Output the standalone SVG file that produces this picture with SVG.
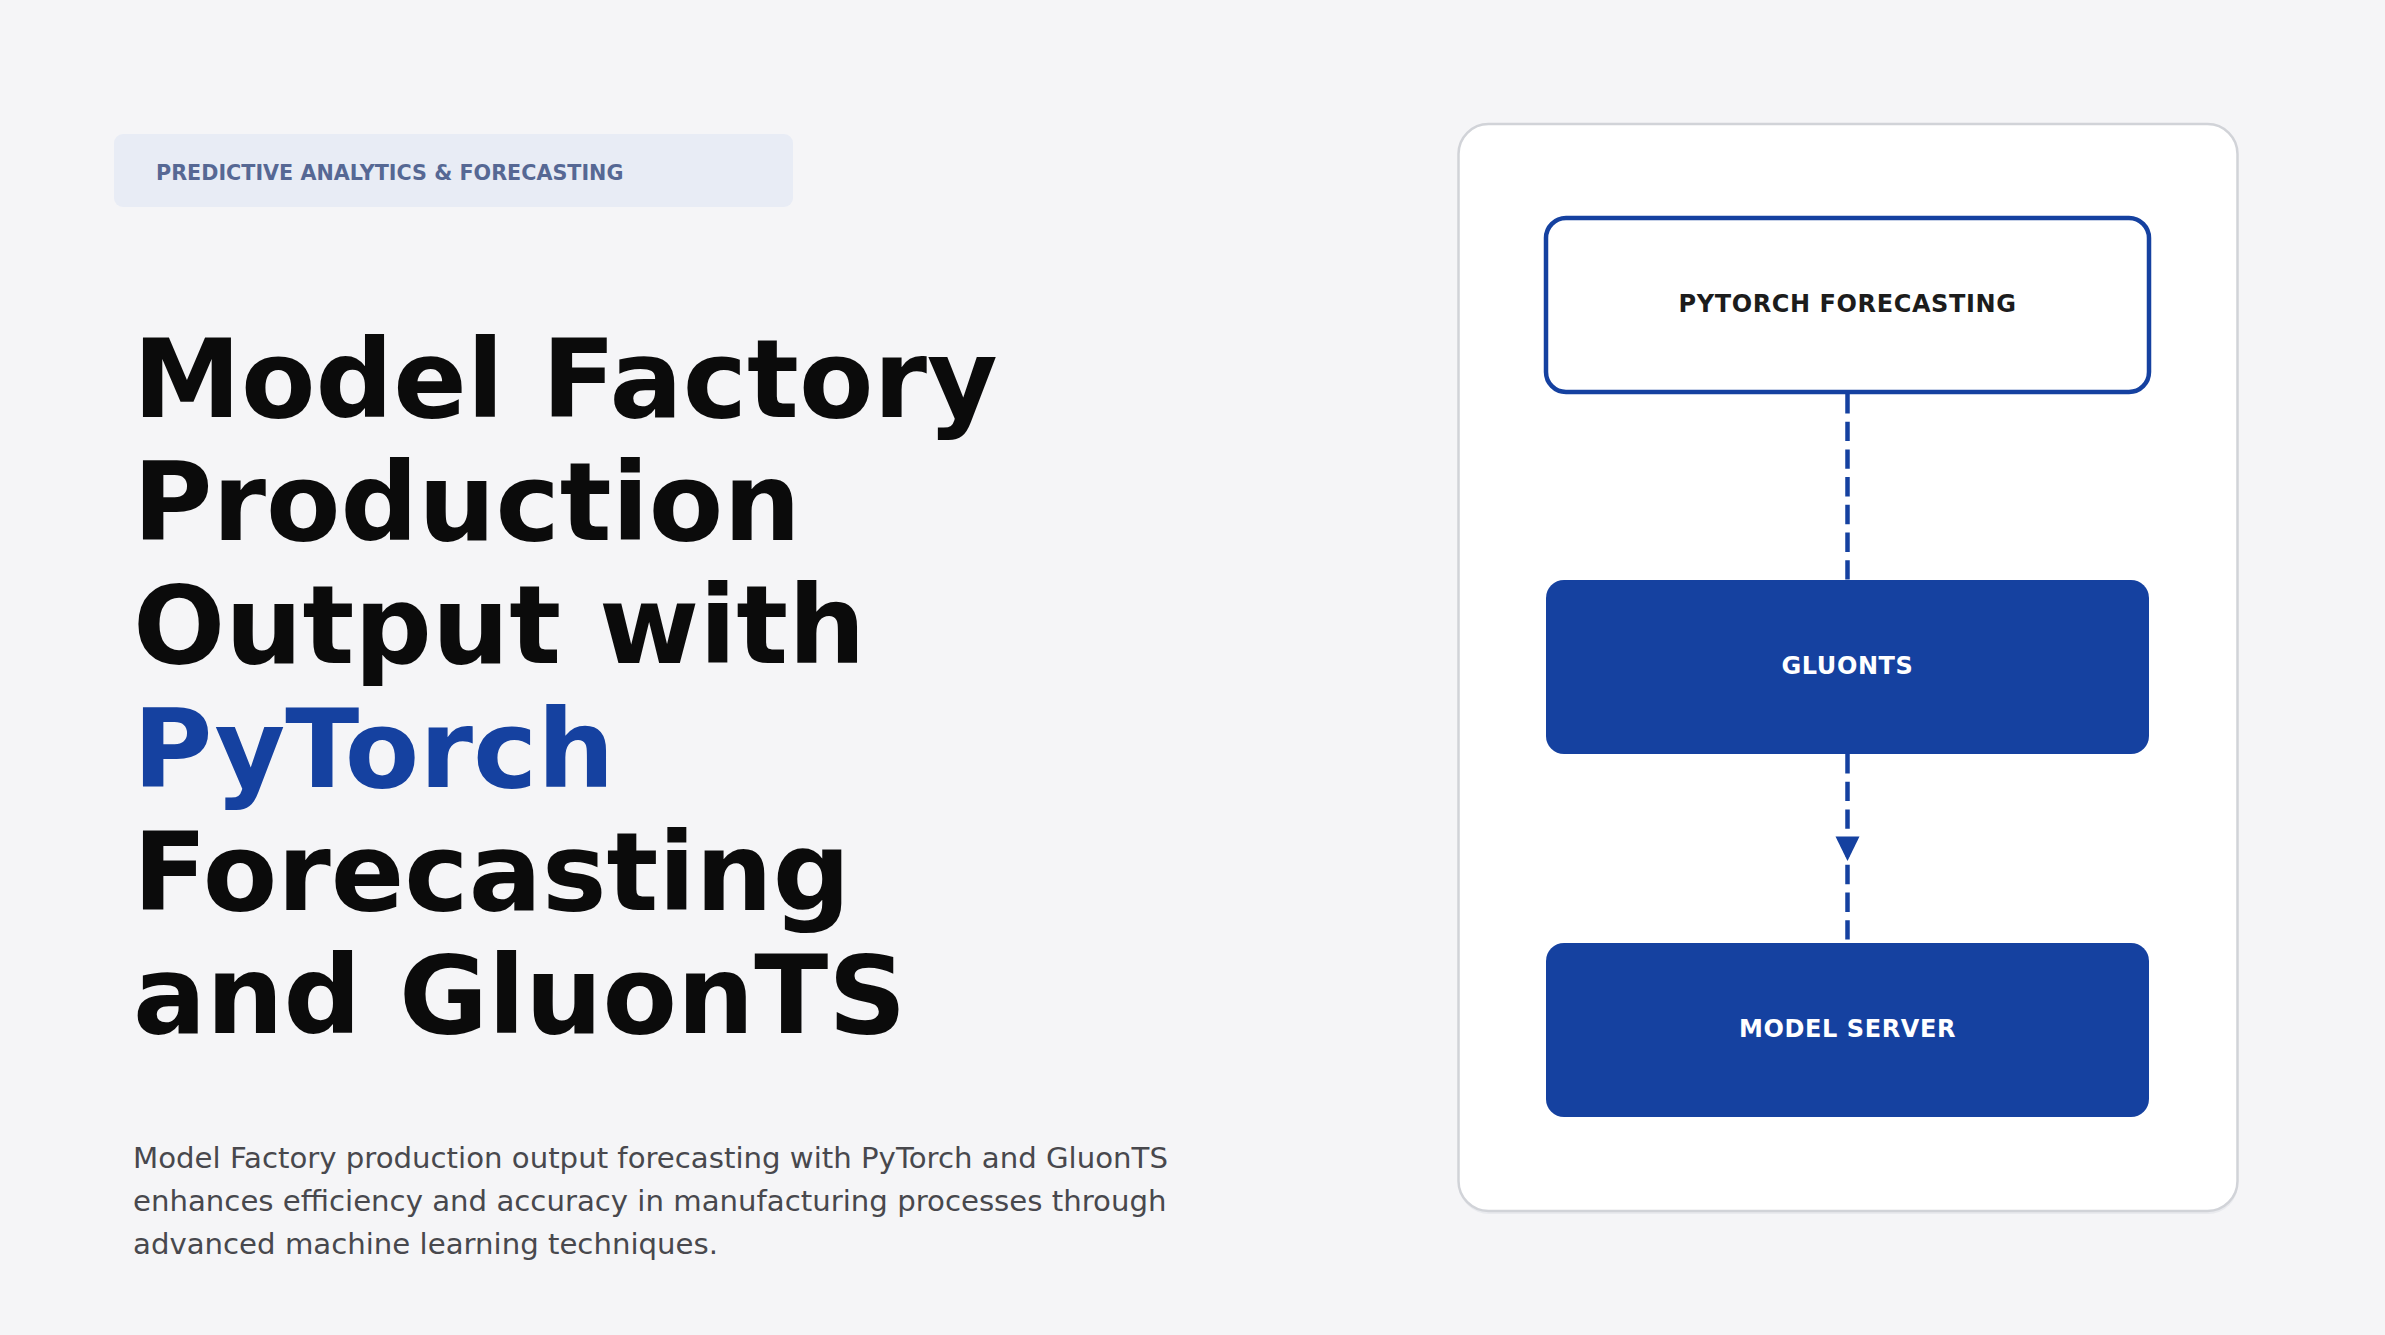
<svg xmlns="http://www.w3.org/2000/svg" width="2385" height="1335" viewBox="0 0 2385 1335">
<style>
.bold{font-family:"DejaVu Sans","Liberation Sans",sans-serif;font-weight:bold}
.reg{font-family:"DejaVu Sans","Liberation Sans",sans-serif}
.title{font-size:108.5px;fill:#0b0b0b}
.lbl{font-size:24px;text-anchor:middle;letter-spacing:0.6px}
.conn{stroke:#1541a0;stroke-width:4.5;fill:none;stroke-dasharray:19.4 8.3}
</style>
<defs>
<marker id="arrow" markerUnits="userSpaceOnUse" markerWidth="26" markerHeight="26" viewBox="0 0 26 26" refX="13" refY="12.5" orient="auto">
<path d="M0.5 0.5 L25 12.5 L0.5 24.5 Z" fill="#1541a0"/>
</marker>
</defs>
<rect width="2385" height="1335" fill="#f5f5f7"/>
<g id="badge">
<rect x="114" y="134" width="679" height="73" rx="9" fill="#e8ecf5"/>
<text class="bold" x="156" y="180" font-size="20.7" fill="#566894">PREDICTIVE ANALYTICS &amp; FORECASTING</text>
</g>
<g id="title">
<text class="bold title" x="133" y="417">Model Factory</text>
<text class="bold title" x="133" y="540">Production</text>
<text class="bold title" x="133" y="663">Output with</text>
<text class="bold title" x="133" y="787" style="fill:#1541a0">PyTorch</text>
<text class="bold title" x="133" y="910">Forecasting</text>
<text class="bold title" x="133" y="1033">and GluonTS</text>
</g>
<g id="description" class="reg" font-size="29.2" fill="#48484d">
<text x="133" y="1168">Model Factory production output forecasting with PyTorch and GluonTS</text>
<text x="133" y="1211">enhances efficiency and accuracy in manufacturing processes through</text>
<text x="133" y="1254">advanced machine learning techniques.</text>
</g>
<g id="card">
<rect x="1459" y="127" width="779" height="1087" rx="30" fill="#e9eaee"/>
<rect x="1458.5" y="124" width="779" height="1087" rx="30" fill="#ffffff" stroke="#d1d3d8" stroke-width="2.5"/>
</g>
<g id="connectors">
<line class="conn" x1="1847.5" y1="394" x2="1847.5" y2="580"/>
<path class="conn" d="M1847.5 754 L1847.5 849 L1847.5 943" marker-mid="url(#arrow)"/>
</g>
<g id="node-pytorch-forecasting">
<rect x="1546" y="218" width="603" height="174" rx="20" fill="#ffffff" stroke="#1541a0" stroke-width="4.5"/>
<text class="bold lbl" x="1847.5" y="312" fill="#1c1c1c">PYTORCH FORECASTING</text>
</g>
<g id="node-gluonts">
<rect x="1546" y="580" width="603" height="174" rx="18" fill="#1541a0"/>
<text class="bold lbl" x="1847.5" y="674" fill="#ffffff">GLUONTS</text>
</g>
<g id="node-model-server">
<rect x="1546" y="943" width="603" height="174" rx="18" fill="#1541a0"/>
<text class="bold lbl" x="1847.5" y="1037" fill="#ffffff">MODEL SERVER</text>
</g>
</svg>
